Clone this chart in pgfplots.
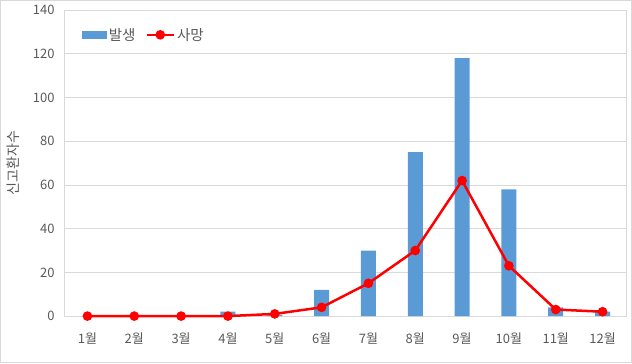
\documentclass[border=0pt]{standalone}
\usepackage{pgfplots}
\pgfplotsset{compat=1.18}
\usepackage{fontspec}
\setmainfont{Noto Sans CJK KR}
\definecolor{barblue}{HTML}{5B9BD5}
\definecolor{txtgray}{HTML}{595959}
\definecolor{gridgray}{HTML}{D9D9D9}
\begin{document}
\begin{tikzpicture}
\begin{axis}[
  scale only axis, width=562pt, height=306pt, clip=false,
  xmin=-0.5, xmax=11.5, ymin=0, ymax=140,
  ytick={0,20,...,140},
  xtick={0,...,11},
  xticklabels={1월,2월,3월,4월,5월,6월,7월,8월,9월,10월,11월,12월},
  major tick length=0pt,
  ymajorgrids, grid style={gridgray, line width=0.8pt},
  axis line style={gridgray, line width=0.8pt},
  tick label style={font=\fontsize{13}{15}\selectfont, text=txtgray},
  /pgf/number format/assume math mode=true,
  yticklabel style={xshift=-6pt},
  xticklabel style={yshift=-13pt},
  ylabel={신고환자수},
  ylabel style={font=\fontsize{14}{16}\selectfont, text=txtgray, at={(axis description cs:-0.091,0.5)}, anchor=center},
  legend style={at={(axis description cs:0.026,0.955)}, anchor=north west, draw=none, fill=none,
    legend columns=2, font=\fontsize{14.5}{16}\selectfont, text=txtgray,
    /tikz/every even column/.append style={column sep=8pt}},
]
\addplot[fill=barblue, draw=none, ybar, bar width=15pt,
  legend image code/.code={\fill[barblue] (0pt,-4pt) rectangle (25pt,4pt);}]
  coordinates {(0,0) (1,0.5) (2,0) (3,2) (4,0.5) (5,12) (6,30) (7,75) (8,118) (9,58) (10,4) (11,2)};
\addlegendentry{발생}
\addplot[red, line width=2.5pt, mark=*, mark size=3.5pt, mark options={fill=red},
  legend image code/.code={\draw[red,line width=2.5pt] (0pt,0pt) -- (27pt,0pt); \fill[red] (13.5pt,0pt) circle (3.5pt);}]
  coordinates {(0,0) (1,0) (2,0) (3,0) (4,1) (5,4) (6,15) (7,30) (8,62) (9,23) (10,3) (11,2)};
\addlegendentry{사망}
\draw[gridgray, line width=0.8pt] (axis description cs:-0.1132,-0.1527) rectangle (axis description cs:1.0100,1.0317);
\end{axis}
\end{tikzpicture}
\end{document}
